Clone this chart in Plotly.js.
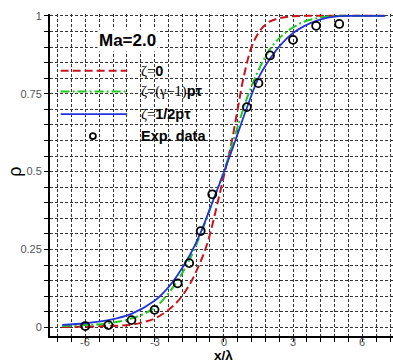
<!DOCTYPE html>
<html>
<head>
<meta charset="utf-8">
<script src="https://cdn.plot.ly/plotly-3.0.1.min.js"></script>
<style>html,body{margin:0;padding:0;background:#fff;}#chart{width:393px;height:363px;}</style>
</head>
<body>
<div id="chart"></div>
<script>
// ---- data ----
var redX = [-7,-6,-5,-4,-3.5,-3,-2.5,-2,-1.5,-1,-0.67,-0.31,0,0.34,0.6,0.85,1.2,1.5,1.75,2,2.5,3,3.5,7];
var redY = [0.001,0.002,0.004,0.008,0.016,0.028,0.05,0.083,0.135,0.212,0.28,0.387,0.485,0.595,0.7,0.8,0.9,0.945,0.968,0.982,0.994,0.999,1.0,1.0];

var greenX = [-7,-6,-5,-4,-3,-2.5,-2,-1.5,-1,-0.5,0,0.5,1,1.5,2,2.5,3,3.5,4,4.5,5,7];
var greenY = [0.004,0.007,0.013,0.028,0.062,0.1,0.15,0.215,0.3,0.4,0.5,0.62,0.735,0.825,0.893,0.935,0.963,0.982,0.992,0.998,1.0,1.0];

var blueX = [-7,-6,-5,-4,-3,-2.5,-2,-1.5,-1,-0.5,0,0.5,1,1.5,2,2.5,3,3.5,4,4.5,5,5.5,7];
var blueY = [0.008,0.013,0.023,0.043,0.085,0.12,0.168,0.228,0.305,0.4,0.497,0.6,0.705,0.8,0.862,0.91,0.945,0.968,0.984,0.994,0.999,1.0,1.0];

var expX = [-6,-5,-4,-3,-2,-1.5,-1,-0.5,1,1.5,2,3,4,5];
var expY = [0.004,0.007,0.023,0.056,0.141,0.206,0.309,0.427,0.707,0.784,0.873,0.923,0.968,0.974];

var xTickVals = [-6, -3, 0, 3, 6];
var xTickText = ['-6', '-3', '0', '3', '6'];

var seriesNames = [
  '<span style="font-family:Liberation Serif">ζ=</span><b>0</b>',
  '<span style="font-family:Liberation Serif">ζ=(γ−1)</span><b>pτ</b>',
  '<span style="font-family:Liberation Serif">ζ=</span><b>1/2pτ</b>',
  '<b>Exp. data</b>'
];
var xTitle = '<b>x/λ</b>';
var yTitle = 'ρ';
var caseLabel = '<b>Ma=2.0</b>';

// ---- styles ----
var styles = [
  {color: '#c8141e', width: 2, dash: '8px,4px'},
  {color: '#22c822', width: 2, dash: '9px,3px,2px,3px'},
  {color: '#2233dd', width: 1.8, dash: 'solid'}
];

var traces = [
  {x: redX, y: redY, name: seriesNames[0], mode: 'lines', line: {color: styles[0].color, width: styles[0].width, dash: styles[0].dash, shape: 'spline'}},
  {x: greenX, y: greenY, name: seriesNames[1], mode: 'lines', line: {color: styles[1].color, width: styles[1].width, dash: styles[1].dash, shape: 'spline'}},
  {x: blueX, y: blueY, name: seriesNames[2], mode: 'lines', line: {color: styles[2].color, width: styles[2].width, shape: 'spline'}},
  {x: expX, y: expY, name: seriesNames[3], mode: 'markers', marker: {symbol: 'circle-open', size: 8, color: '#000', line: {width: 1.8, color: '#000'}}}
];

var gridColor = '#333', gridDash = '3px,2px';

// legend drawn manually (paper coordinates)
var rowY = [0.824, 0.759, 0.689, 0.621];
var lineX0 = 0.031, lineX1 = 0.225, textX = 0.262, markX = 0.125;

var shapes = [
  {type: 'rect', xref: 'paper', yref: 'paper', x0: 0.004, x1: 0.452, y0: 0.571, y1: 0.905, fillcolor: '#fff', line: {width: 0}, layer: 'between'}
];
var annotations = [
  {xref: 'paper', yref: 'paper', x: 0.227, y: 0.918, xanchor: 'center', yanchor: 'middle', text: caseLabel, showarrow: false, bgcolor: '#fff', font: {size: 17, color: '#000'}},
  {xref: 'paper', yref: 'paper', x: 0.505, y: -0.0615, xanchor: 'center', yanchor: 'middle', text: xTitle, showarrow: false, borderpad: 0, font: {size: 13.5, color: '#000'}},
  {xref: 'paper', yref: 'paper', x: -0.102, y: 0.51, xanchor: 'center', yanchor: 'middle', text: yTitle, textangle: -90, showarrow: false, font: {size: 18, color: '#000'}}
];
for (var i = 0; i < 3; i++) {
  shapes.push({type: 'line', xref: 'paper', yref: 'paper', x0: lineX0, x1: lineX1, y0: rowY[i], y1: rowY[i], line: {color: styles[i].color, width: styles[i].width, dash: styles[i].dash}});
}
shapes.push({type: 'circle', xref: 'paper', yref: 'paper', x0: markX - 0.0088, x1: markX + 0.0088, y0: rowY[3] - 0.0093, y1: rowY[3] + 0.0093, line: {color: '#000', width: 1.8}});
for (var j = 0; j < 4; j++) {
  annotations.push({xref: 'paper', yref: 'paper', x: textX, y: rowY[j], xanchor: 'left', yanchor: 'middle', text: seriesNames[j], showarrow: false, borderpad: 0, font: {size: 14.5, color: '#000'}});
}
for (var k = 0; k < xTickVals.length; k++) {
  annotations.push({xref: 'x', yref: 'paper', x: xTickVals[k], y: -0.0171, xanchor: 'center', yanchor: 'middle', text: xTickText[k], showarrow: false, borderpad: 0, font: {size: 11, color: '#555'}});
}

var layout = {
  width: 393, height: 363,
  margin: {l: 50, r: 0, t: 14, b: 27},
  paper_bgcolor: '#fff', plot_bgcolor: '#fff',
  font: {family: 'Liberation Sans, Arial, sans-serif', color: '#000'},
  showlegend: false,
  xaxis: {
    range: [-7.53, 7.33],
    tickmode: 'linear', tick0: 0, dtick: 3,
    ticks: 'outside', ticklen: 4, tickwidth: 1, tickcolor: '#000',
    showticklabels: false,
    showline: true, linecolor: '#000', linewidth: 2,
    showgrid: true, gridcolor: gridColor, griddash: gridDash, gridwidth: 1,
    zeroline: false,
    minor: {tick0: 0, dtick: 0.6, ticks: 'outside', ticklen: 4, tickcolor: '#000', showgrid: true, gridcolor: gridColor, griddash: gridDash, gridwidth: 1}
  },
  yaxis: {
    range: [-0.028, 1.006],
    tickmode: 'linear', tick0: 0, dtick: 0.25,
    ticks: 'outside', ticklen: 4, tickwidth: 1, tickcolor: '#000',
    showline: true, linecolor: '#000', linewidth: 2,
    showgrid: true, gridcolor: gridColor, griddash: gridDash, gridwidth: 1,
    zeroline: false,
    tickfont: {size: 11, color: '#555'},
    minor: {tick0: 0, dtick: 0.05, ticks: 'outside', ticklen: 4, tickcolor: '#000', showgrid: true, gridcolor: gridColor, griddash: gridDash, gridwidth: 1}
  },
  shapes: shapes,
  annotations: annotations
};

Plotly.newPlot('chart', traces, layout, {displayModeBar: false, staticPlot: true});
</script>
</body>
</html>
